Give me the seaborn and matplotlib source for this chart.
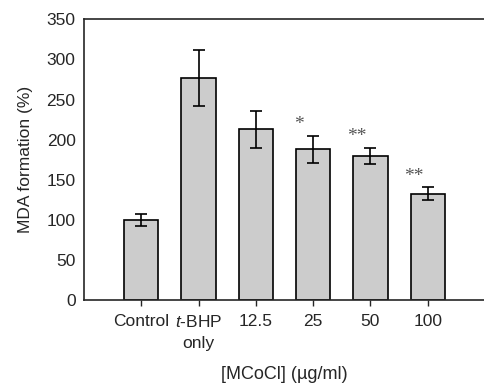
import matplotlib
matplotlib.use("Agg")
import matplotlib.pyplot as plt
import seaborn as sns
import pandas as pd

# data
groups = ["Control", "$\\mathit{t}$-BHP\nonly", "12.5", "25", "50", "100"]
mda = [100, 277, 213, 188, 180, 133]
sd = [8, 35, 23, 17, 10, 8]
stars = ["", "", "", "*", "**", "**"]

sns.set_style("ticks")
plt.rcParams["font.family"] = ["Liberation Sans", "DejaVu Sans"]
plt.rcParams["mathtext.fontset"] = "custom"
plt.rcParams["mathtext.it"] = "Liberation Sans:italic"
plt.rcParams["mathtext.rm"] = "Liberation Sans"

df = pd.DataFrame({"group": groups, "mda": mda, "sd": sd})

fig = plt.figure(figsize=(4.85, 3.85), dpi=100)
ax = fig.add_axes([0.173, 0.22, 0.827, 0.73])

sns.barplot(data=df, x="group", y="mda", color="#cccccc", edgecolor="black",
            linewidth=1.2, width=0.6, saturation=1, errorbar=None, ax=ax)
ax.errorbar(range(len(groups)), mda, yerr=sd, fmt="none", ecolor="black",
            elinewidth=1.2, capsize=4, capthick=1.2)

# significance marks
for i, s in enumerate(stars):
    if s:
        ax.text(i - 0.24, mda[i] + sd[i] + 3, s, ha="center", va="bottom",
                color="#555555", fontsize=14, family="Liberation Serif")

ax.set_xlim(-1, 6)
ax.set_ylim(0, 350)
ax.set_yticks(range(0, 351, 50))
ax.tick_params(axis="y", length=0, pad=6, labelsize=12.5)
ax.tick_params(axis="x", length=4, width=1, pad=6, labelsize=12.5)
for lbl in ax.get_xticklabels():
    lbl.set_linespacing(1.45)
for sp in ax.spines.values():
    sp.set_linewidth(1.2)
ax.spines["right"].set_visible(False)

ax.set_ylabel("MDA formation (%)", fontsize=12.5, labelpad=10)
ax.set_xlabel("[MCoCl] (\u00b5g/ml)", fontsize=13, labelpad=11)

fig.savefig("out.png", dpi=100)
